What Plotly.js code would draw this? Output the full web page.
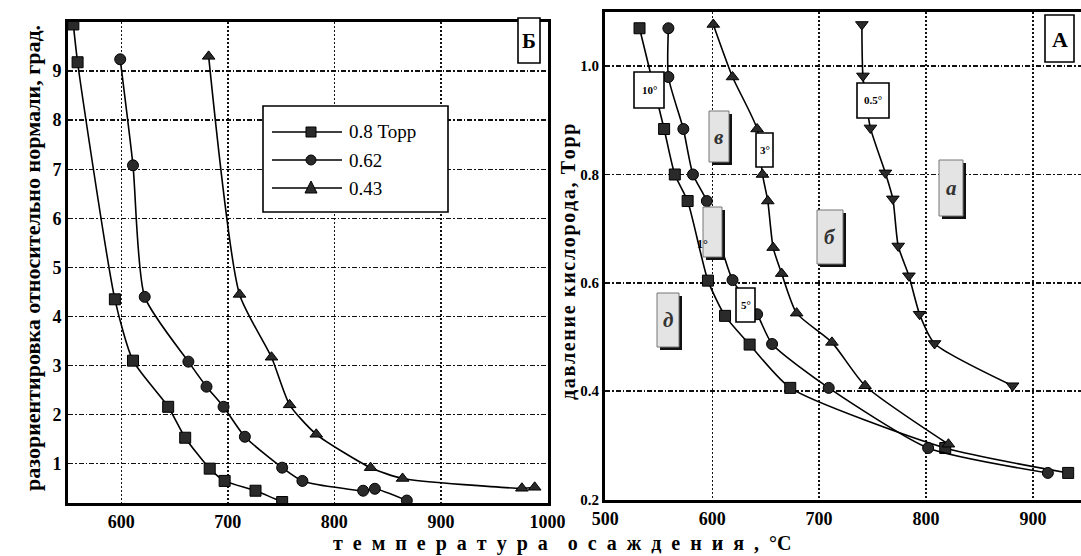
<!DOCTYPE html>
<html>
<head>
<meta charset="utf-8">
<script src="https://cdn.plot.ly/plotly-3.0.1.min.js"></script>
<style>html,body{margin:0;padding:0;background:#fff;}#chart{width:1081px;height:556px;}</style>
</head>
<body>
<div id="chart"></div>
<script>
// ---------- Panel Б (left): misorientation vs deposition temperature ----------
const tempB_08 = [555, 559, 594, 611, 644, 660, 683, 697, 726, 751];
const misB_08  = [9.95, 9.18, 4.35, 3.1, 2.16, 1.53, 0.9, 0.65, 0.45, 0.22];
const tempB_062 = [599, 611, 622, 663, 680, 696, 716, 751, 770, 827, 838, 868];
const misB_062  = [9.24, 7.08, 4.4, 3.08, 2.57, 2.16, 1.55, 0.92, 0.65, 0.45, 0.49, 0.25];
const tempB_043 = [682, 711, 741, 758, 783, 834, 864, 976, 988];
const misB_043  = [9.3, 4.45, 3.17, 2.2, 1.6, 0.92, 0.7, 0.5, 0.52];
const legendNames = ["0.8 Торр", "0.62", "0.43"];

// ---------- Panel A (right): oxygen pressure vs deposition temperature ----------
const tempA_sq = [532, 555, 565, 577, 596, 612, 635, 673, 818, 933];
const presA_sq = [1.07, 0.884, 0.80, 0.751, 0.604, 0.539, 0.486, 0.406, 0.295, 0.249];
const tempA_ci = [559, 559, 573, 582, 595, 619, 642, 656, 709, 802, 914];
const presA_ci = [1.07, 0.98, 0.884, 0.80, 0.751, 0.605, 0.542, 0.487, 0.406, 0.295, 0.249];
const tempA_tu = [601, 619, 642, 647, 652, 657, 665, 679, 712, 743, 821];
const presA_tu = [1.077, 0.98, 0.884, 0.80, 0.751, 0.665, 0.617, 0.544, 0.49, 0.41, 0.302];
const tempA_td = [740, 741, 748, 762, 769, 774, 784, 794, 808, 881];
const presA_td = [1.077, 0.982, 0.886, 0.803, 0.755, 0.668, 0.613, 0.542, 0.488, 0.41];

const ticksB_x = [600, 700, 800, 900, 1000];
const ticksB_y = [1, 2, 3, 4, 5, 6, 7, 8, 9];
const ticksA_x = [500, 600, 700, 800, 900];
const ticksA_y = [0.2, 0.4, 0.6, 0.8, 1.0];

const W = 1081, H = 556;
const PX = p => p / W;
const PY = p => 1 - p / H;
const SERIF = "Liberation Serif, DejaVu Serif, serif";
const bold = v => "<b>" + v + "</b>";

function series(x, y, sym, xa, ya, name) {
  return {
    x: x, y: y, xaxis: xa, yaxis: ya, name: name, type: "scatter",
    mode: "lines+markers", showlegend: false,
    line: {color: "#000", width: 1.6, shape: "spline", smoothing: 0.6},
    marker: {symbol: sym, size: 11, color: "#2a2a2a", line: {color: "#000", width: 1}},
    cliponaxis: true, hoverinfo: "x+y"
  };
}

const data = [
  series(tempB_08, misB_08, "square", "x", "y", legendNames[0]),
  series(tempB_062, misB_062, "circle", "x", "y", legendNames[1]),
  series(tempB_043, misB_043, "triangle-up", "x", "y", legendNames[2]),
  series(tempA_sq, presA_sq, "square", "x2", "y2", "A1"),
  series(tempA_ci, presA_ci, "circle", "x2", "y2", "A2"),
  series(tempA_tu, presA_tu, "triangle-up", "x2", "y2", "A3"),
  series(tempA_td, presA_td, "triangle-down", "x2", "y2", "A4")
];

const tickFont = {family: SERIF, size: 18, color: "#000"};
const axCommon = {
  showline: true, linecolor: "#000", linewidth: 3,
  showgrid: true, gridcolor: "#111", gridwidth: 1.4,
  zeroline: false, ticks: "", tickfont: tickFont, fixedrange: true
};

const shapes = [];
const annotations = [];

function box(x0, y0, x1, y1, shaded) {
  if (shaded) {
    shapes.push({type: "rect", xref: "paper", yref: "paper",
      x0: PX(x0 + 3), x1: PX(x1 + 3), y0: PY(y0 + 3), y1: PY(y1 + 3),
      fillcolor: "#111", line: {width: 0}, layer: "above"});
  }
  shapes.push({type: "rect", xref: "paper", yref: "paper",
    x0: PX(x0), x1: PX(x1), y0: PY(y0), y1: PY(y1),
    fillcolor: shaded ? "#e4e4e4" : "#fff",
    line: {color: shaded ? "#777" : "#000", width: shaded ? 1 : 1.6}, layer: "above"});
}
function label(cx, cy, text, size, opts) {
  opts = opts || {};
  const t = opts.plain ? text : bold(opts.italic ? "<i>" + text + "</i>" : text);
  annotations.push(Object.assign({
    xref: "paper", yref: "paper", x: PX(cx), y: PY(cy),
    xanchor: "center", yanchor: "middle", showarrow: false, text: t,
    font: {family: SERIF, size: size, color: opts.color || "#000"}
  }, opts.extra || {}));
}

// Panel labels
box(518, 18, 540, 63, false); label(529, 41, "Б", 21);
box(1045, 15, 1074, 62, false); label(1059.5, 39, "A", 22);

// Plain labels on panel A
box(634, 72, 664, 108, false); label(649, 90, "10°", 11);
box(857, 83, 889, 118, false); label(873, 100.5, "0.5°", 11);
box(756, 133, 773, 167, false); label(764.5, 150, "3°", 11);
box(736, 288, 755, 322, false); label(745.5, 305, "5°", 11);

// Shaded letter boxes on panel A
box(709, 111, 729, 162, true); label(719, 137, "в", 21, {italic: true, color: "#333"});
box(703, 207, 722, 257, true); label(702, 244, "1°", 12);
box(657, 293, 679, 347, true); label(668, 320, "д", 21, {italic: true, color: "#333"});
box(817, 210, 843, 264, true); label(830, 237, "б", 21, {italic: true, color: "#333"});
box(939, 160, 963, 216, true); label(951, 188, "a", 21, {italic: true, color: "#333"});

// Manual legend for panel Б
box(263, 106, 448, 212, false);
const legY = [132, 160, 188];
const legSym = ["square", "circle", "triangle"];
legY.forEach((yy, i) => {
  shapes.push({type: "line", xref: "paper", yref: "paper",
    x0: PX(272), x1: PX(342), y0: PY(yy), y1: PY(yy),
    line: {color: "#000", width: 1.6}, layer: "above"});
  const cx = 311, r = 5;
  if (legSym[i] === "square") {
    shapes.push({type: "rect", xref: "paper", yref: "paper",
      x0: PX(cx - r), x1: PX(cx + r), y0: PY(yy - r), y1: PY(yy + r),
      fillcolor: "#2a2a2a", line: {color: "#000", width: 1}, layer: "above"});
  } else if (legSym[i] === "circle") {
    shapes.push({type: "circle", xref: "paper", yref: "paper",
      x0: PX(cx - r), x1: PX(cx + r), y0: PY(yy - r), y1: PY(yy + r),
      fillcolor: "#2a2a2a", line: {color: "#000", width: 1}, layer: "above"});
  } else {
    shapes.push({type: "path", xref: "paper", yref: "paper",
      path: `M${PX(cx - 6)},${PY(yy + 5)} L${PX(cx + 6)},${PY(yy + 5)} L${PX(cx)},${PY(yy - 7)} Z`,
      fillcolor: "#2a2a2a", line: {color: "#000", width: 1}, layer: "above"});
  }
  label(347, yy, legendNames[i], 19, {plain: true, extra: {xanchor: "left"}});
});

// Axis titles
label(32, 258, "разориентировка относительно нормали, град.", 22, {extra: {textangle: -90}});
const rt = "давление кислорода, Торр".split("").join("\u200A");
label(568, 262, rt, 20, {extra: {textangle: -90}});
const xt = "температура".split("").join("\u2002") + "\u2002\u2002" +
           "осаждения,".split("").join("\u2002") + "\u2002°С";
label(562, 543, xt, 20);

const layout = {
  width: W, height: H,
  margin: {l: 0, r: 0, t: 0, b: 0},
  paper_bgcolor: "#fff", plot_bgcolor: "#fff",
  showlegend: false,
  xaxis: Object.assign({}, axCommon, {
    domain: [PX(68), PX(548)], range: [550, 1000.5],
    tickvals: ticksB_x, ticktext: ticksB_x.map(bold), mirror: true, anchor: "y",
    griddash: "2px,2px"
  }),
  yaxis: Object.assign({}, axCommon, {
    domain: [PY(503), PY(22)], range: [0.2, 10],
    tickvals: ticksB_y, ticktext: ticksB_y.map(bold), mirror: true, anchor: "x",
    griddash: "5px,2px,1.5px,2px"
  }),
  xaxis2: Object.assign({}, axCommon, {
    domain: [PX(605), 1], range: [499.7, 945],
    tickvals: ticksA_x, ticktext: ticksA_x.map(bold), mirror: true, anchor: "y2",
    griddash: "2px,2px"
  }),
  yaxis2: Object.assign({}, axCommon, {
    domain: [PY(500), PY(12)], range: [0.199, 1.1],
    tickvals: ticksA_y, ticktext: ticksA_y.map(v => bold(v.toFixed(1))), mirror: false, anchor: "x2",
    tickfont: {family: SERIF, size: 15, color: "#000"},
    griddash: "5px,2px,1.5px,2px"
  }),
  shapes: shapes,
  annotations: annotations
};

Plotly.newPlot("chart", data, layout, {staticPlot: true, displayModeBar: false});
</script>
</body>
</html>
